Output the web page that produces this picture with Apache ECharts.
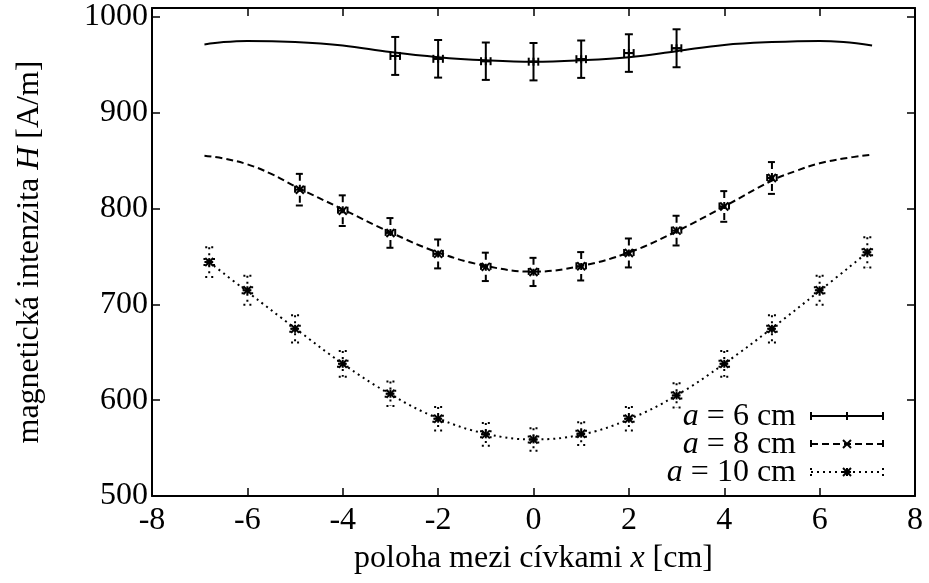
<!DOCTYPE html>
<html>
<head>
<meta charset="utf-8">
<script src="https://cdn.jsdelivr.net/npm/echarts@6/dist/echarts.min.js"></script>
<style>
  html, body { margin: 0; background: #fff; }
  #chart { width: 929px; height: 583px; }
</style>
</head>
<body>
<div id="chart"></div>
<script>
// measured points: position x [cm], field H [A/m], error of H
const x6 = [-2.9, -2, -1, 0, 1, 2, 3]
const h6 = [959, 956, 953.5, 953, 955.6, 962, 967]
const e6 = [19.8, 19.6, 19.5, 19.5, 19.5, 19.6, 19.8]

const x8 = [-4.9, -4, -3, -2, -1, 0, 1, 2, 3, 4, 5]
const h8 = [819.5, 797.6, 774.4, 752.5, 739, 733.7, 739.6, 753.5, 776.8, 802, 831.7]
const e8 = [16.5, 16, 15.5, 15.1, 14.8, 14.7, 14.8, 15.1, 15.5, 16, 16.6]

const x10 = [-6.8, -6, -5, -4, -3, -2, -1, 0, 1, 2, 3, 4, 5, 6, 7]
const h10 = [744, 714.6, 674.4, 637.9, 606.7, 580.6, 564.3, 559, 565, 580.6, 604.9, 637.9, 674.4, 714.6, 754.2]
const e10 = [15.5, 15, 14.2, 13.4, 12.7, 12.2, 11.8, 11.7, 11.8, 12.2, 12.7, 13.4, 14.2, 15, 15.8]

const xErr = 0.1

// theoretical curves
const fitX6 = [-6.9, -6.5, -6, -5, -4, -3, -2, -1, 0, 1, 2, 3, 4, 5, 6, 6.5, 7.1]
const fit6 = [971, 973.5, 974.7, 973.6, 970, 963, 957.7, 954.5, 953, 954.5, 957.7, 964, 970.5, 973.5, 974.7, 973.5, 970]

const fitX8 = [-6.9, -6.5, -6, -5.5, -5, -4, -3, -2, -1, 0, 1, 2, 3, 4, 5, 5.5, 6, 6.5, 7.1]
const fit8 = [855, 852, 846, 836, 823, 799, 775, 754, 740, 734, 740, 754, 776, 802, 829, 839, 847, 852, 856]

const fitX10 = [-6.8, -6, -5, -4, -3, -2, -1, 0, 1, 2, 3, 4, 5, 6, 7]
const fit10 = [744, 713, 675, 638, 606, 581, 565, 559, 564, 580, 605, 638, 675, 714, 754]

const legendNames = ['6', '8', '10']

const FONT = 'Liberation Serif'
const FS = 32
const DASHED = [7, 4]
const DOTTED = [2, 4]

const zip = (a, b, c) => a.map((v, i) => (c ? [v, b[i], c[i]] : [v, b[i]]))

// marker shapes, drawn as short strokes around (cx, cy)
function markerLines(kind, cx, cy, s) {
  const out = []
  if (kind === 'plus' || kind === 'star') {
    out.push([cx - s, cy, cx + s, cy], [cx, cy - s, cx, cy + s])
  }
  if (kind === 'cross' || kind === 'star') {
    out.push([cx - s, cy - s, cx + s, cy + s], [cx - s, cy + s, cx + s, cy - s])
  }
  return out
}

function seg(p, style) {
  return { type: 'line', shape: { x1: p[0], y1: p[1], x2: p[2], y2: p[3] }, style }
}

function errorBars(dash, kind) {
  return function (params, api) {
    const x = api.value(0)
    const y = api.value(1)
    const e = api.value(2)
    const c = api.coord([x, y])
    const t = api.coord([x, y + e])
    const b = api.coord([x, y - e])
    const l = api.coord([x - xErr, y])
    const r = api.coord([x + xErr, y])
    const st = { stroke: '#000', lineWidth: 2, lineDash: dash, fill: null }
    const solid = { stroke: '#000', lineWidth: 2, fill: null }
    const cap = 4
    const children = [
      seg([t[0], t[1], b[0], b[1]], st),
      seg([t[0] - cap, t[1], t[0] + cap, t[1]], st),
      seg([b[0] - cap, b[1], b[0] + cap, b[1]], st),
      seg([l[0], l[1], r[0], r[1]], st),
      seg([l[0], l[1] - cap, l[0], l[1] + cap], st),
      seg([r[0], r[1] - cap, r[0], r[1] + cap], st),
    ]
    markerLines(kind, c[0], c[1], 4).forEach((p) => children.push(seg(p, solid)))
    return { type: 'group', children }
  }
}

// legend samples, gnuplot style (text right, line sample with end caps)
function legendGraphics() {
  const kinds = ['plus', 'cross', 'star']
  const dashes = [null, DASHED, DOTTED]
  const rows = [416, 444, 472]
  const x1 = 811
  const x2 = 883
  const out = []
  rows.forEach((y, i) => {
    out.push({
      type: 'text',
      right: 929 - 796,
      top: y - 15,
      style: {
        text: '{i|a} = ' + legendNames[i] + ' cm',
        font: FS + 'px "' + FONT + '"',
        fill: '#000',
        rich: { i: { fontStyle: 'italic', fontFamily: FONT, fontSize: FS } },
      },
    })
    const st = { stroke: '#000', lineWidth: 2, lineDash: dashes[i] }
    const solid = { stroke: '#000', lineWidth: 2 }
    const lines = [
      [x1, y, x2, y],
      [x1, y - 4, x1, y + 4],
      [x2, y - 4, x2, y + 4],
    ]
    lines.forEach((p) => out.push({ type: 'line', shape: { x1: p[0], y1: p[1], x2: p[2], y2: p[3] }, style: st }))
    markerLines(kinds[i], (x1 + x2) / 2, y, 4).forEach((p) =>
      out.push({ type: 'line', shape: { x1: p[0], y1: p[1], x2: p[2], y2: p[3] }, style: solid }),
    )
  })
  return out
}

const chart = echarts.init(document.getElementById('chart'))

const labelStyle = { color: '#000', fontFamily: FONT, fontSize: FS }
const italic = { i: { fontStyle: 'italic', fontFamily: FONT, fontSize: FS, color: '#000' } }
const line2 = { show: true, onZero: false, lineStyle: { color: '#000', width: 2 } }
const tickIn = { show: true, inside: true, length: 8, lineStyle: { color: '#000', width: 1.5 } }

const xBase = { type: 'value', min: -8, max: 8, interval: 2, splitLine: { show: false }, axisLine: line2, axisTick: tickIn }
const yBase = { type: 'value', min: 500, max: 1009, interval: 100, splitLine: { show: false }, axisLine: line2, axisTick: tickIn }

chart.setOption({
  animation: false,
  backgroundColor: '#fff',
  grid: { left: 152, right: 14, top: 8, bottom: 87, outerBoundsMode: 'none', containLabel: false },
  xAxis: [
    {
      ...xBase,
      position: 'bottom',
      axisLabel: { ...labelStyle, margin: 9 },
      name: 'poloha mezi cívkami {i|x} [cm]',
      nameLocation: 'middle',
      nameGap: 47,
      nameTextStyle: { ...labelStyle, rich: italic },
    },
    { ...xBase, position: 'top', axisLabel: { show: false } },
  ],
  yAxis: [
    {
      ...yBase,
      position: 'left',
      axisLabel: {
        ...labelStyle,
        margin: 4,
        formatter: (v) => (v % 100 === 0 ? String(v) : ''),
      },
      name: 'magnetická intenzita {i|H} [A/m]',
      nameLocation: 'middle',
      nameRotate: 90,
      nameGap: 106,
      nameTextStyle: { ...labelStyle, rich: italic },
    },
    { ...yBase, position: 'right', axisLabel: { show: false } },
  ],
  series: [
    { type: 'line', data: zip(fitX6, fit6), smooth: 0.4, symbol: 'none', lineStyle: { color: '#000', width: 2 } },
    { type: 'line', data: zip(fitX8, fit8), smooth: 0.4, symbol: 'none', lineStyle: { color: '#000', width: 2, type: DASHED } },
    { type: 'line', data: zip(fitX10, fit10), smooth: 0.4, symbol: 'none', lineStyle: { color: '#000', width: 2, type: DOTTED } },
    { type: 'custom', data: zip(x6, h6, e6), renderItem: errorBars(null, 'plus') },
    { type: 'custom', data: zip(x8, h8, e8), renderItem: errorBars(DASHED, 'cross') },
    { type: 'custom', data: zip(x10, h10, e10), renderItem: errorBars(DOTTED, 'star') },
  ],
  graphic: legendGraphics(),
})
</script>
</body>
</html>
